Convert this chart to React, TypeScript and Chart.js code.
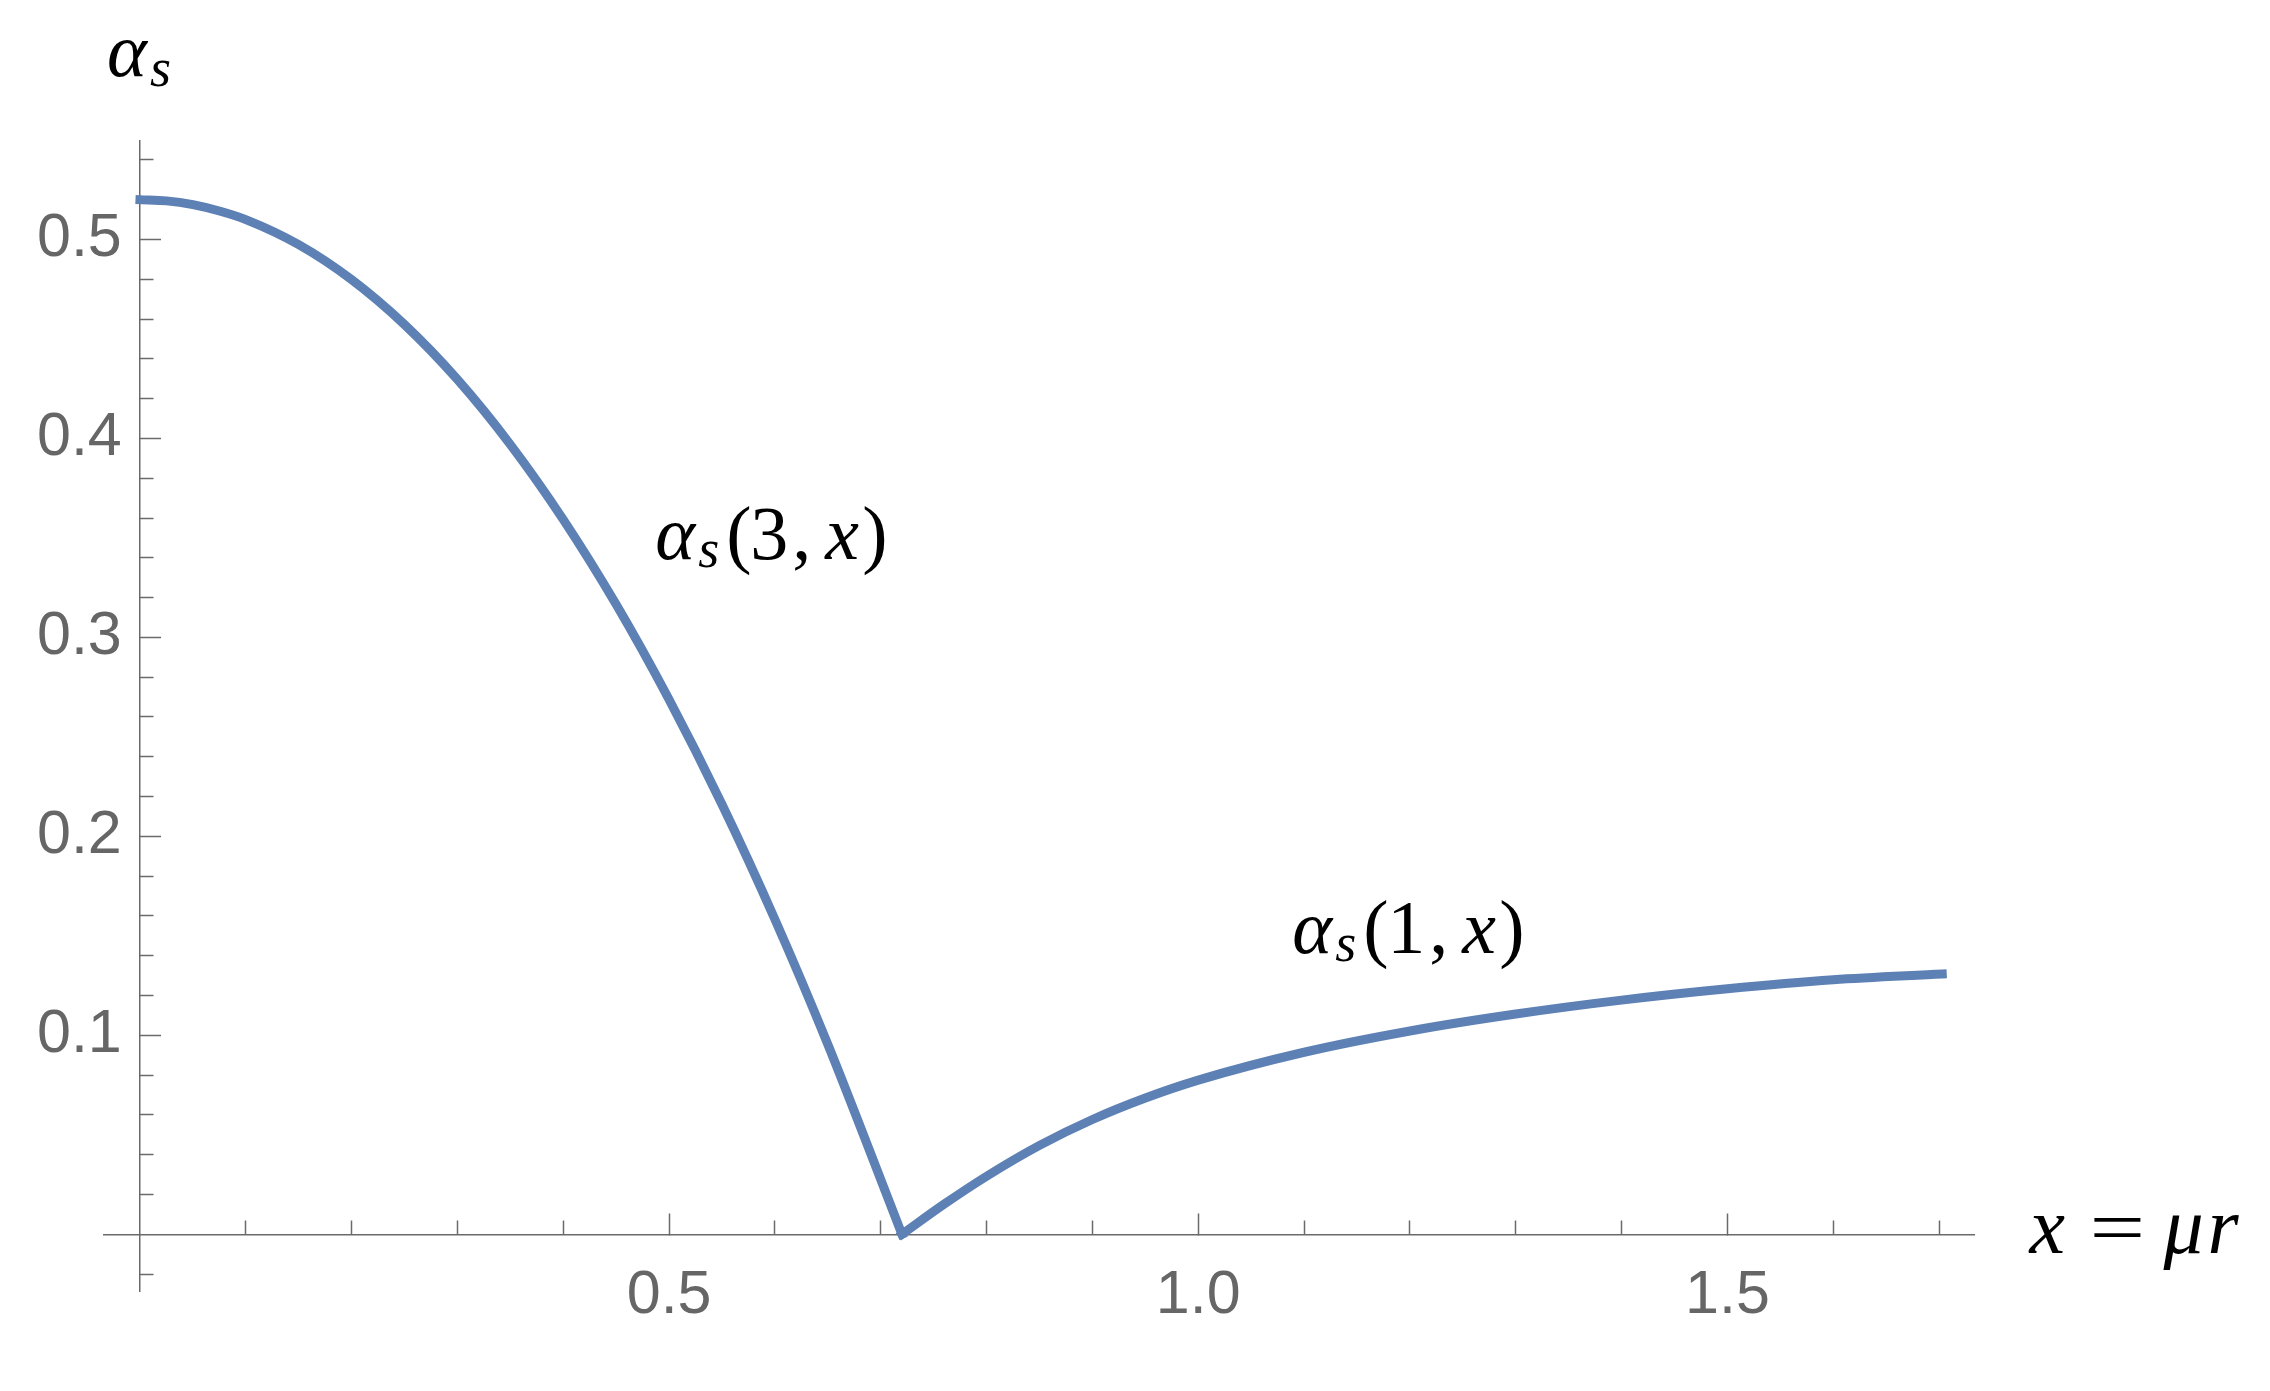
import React, { useEffect, useRef } from 'react';
import { Chart, registerables } from 'chart.js';

Chart.register(...registerables);

// alpha_s(3, x) branch
const X_BRANCH3 = [0, 0.025, 0.05, 0.075, 0.1, 0.15, 0.2, 0.25, 0.3, 0.35, 0.4, 0.45, 0.5, 0.55, 0.6, 0.65, 0.7, 0.72];
const Y_BRANCH3 = [0.52, 0.5194, 0.5175, 0.5143, 0.51, 0.4974, 0.4798, 0.4572, 0.4296, 0.3969, 0.3592, 0.3165, 0.2687, 0.216, 0.1582, 0.0954, 0.0275, 0.0];

// alpha_s(1, x) branch
const X_BRANCH1 = [0.72, 0.76, 0.8, 0.85, 0.9, 0.95, 1.0, 1.1, 1.2, 1.3, 1.4, 1.5, 1.6, 1.703];
const Y_BRANCH1 = [0.0, 0.0152, 0.0292, 0.0447, 0.0577, 0.0685, 0.0775, 0.0915, 0.1022, 0.1107, 0.1177, 0.1234, 0.1279, 0.1308];

const X_MAJOR_TICKS = [0.5, 1.0, 1.5];
const X_MINOR_TICKS = [0.1, 0.2, 0.3, 0.4, 0.6, 0.7, 0.8, 0.9, 1.1, 1.2, 1.3, 1.4, 1.6, 1.7];
const Y_MAJOR_TICKS = [0.1, 0.2, 0.3, 0.4, 0.5];
const Y_MINOR_TICKS = [-0.02, 0.02, 0.04, 0.06, 0.08, 0.12, 0.14, 0.16, 0.18, 0.22, 0.24, 0.26, 0.28, 0.32, 0.34, 0.36, 0.38, 0.42, 0.44, 0.46, 0.48, 0.52, 0.54];

const X_RANGE = [-0.034, 1.733];
const Y_RANGE = [-0.0285, 0.5495];

// curve label anchors (data coords: left edge, baseline)
const CURVE_LABEL_N = ['3', '1'];
const CURVE_LABEL_X = [0.4868, 1.0888];
const CURVE_LABEL_Y = [0.3393, 0.1414];

// axis label anchors (data coords)
const X_AXIS_LABEL_POS = [1.7836, -0.0093];
const Y_AXIS_LABEL_POS = [-0.0312, 0.5821];

const CURVE_COLOR = '#5E81B5';
const AXIS_COLOR = '#6a6a6a';
const TICK_LABEL_COLOR = '#666666';
const SANS = '"Liberation Sans", Arial, sans-serif';
const SERIF = '"Liberation Serif", "DejaVu Serif", serif';
const MATH_SIZE = 76;
const SUB_SIZE = 54;

type Glyph = { t: string; dx: number; size: number; italic?: boolean; dy?: number; sx?: number };

function drawGlyphs(ctx: CanvasRenderingContext2D, left: number, base: number, glyphs: Glyph[]) {
  for (const g of glyphs) {
    ctx.save();
    ctx.font = `${g.italic ? 'italic ' : ''}${g.size}px ${SERIF}`;
    ctx.fillStyle = '#000';
    ctx.textBaseline = 'alphabetic';
    ctx.textAlign = 'left';
    ctx.translate(left + g.dx, base + (g.dy || 0));
    if (g.sx) ctx.scale(g.sx, 1);
    ctx.fillText(g.t, 0, 0);
    ctx.restore();
  }
}

const mathLabels = {
  id: 'mathLabels',
  afterDraw(chart: any) {
    const ctx: CanvasRenderingContext2D = chart.ctx;
    const xs = chart.scales.x;
    const ys = chart.scales.y;
    CURVE_LABEL_N.forEach((n, i) => {
      const left = xs.getPixelForValue(CURVE_LABEL_X[i]);
      const base = ys.getPixelForValue(CURVE_LABEL_Y[i]);
      drawGlyphs(ctx, left, base, [
        { t: 'α', dx: 0, size: MATH_SIZE, italic: true },
        { t: 's', dx: 43, size: SUB_SIZE, italic: true, dy: 8 },
        { t: '(', dx: 71, size: MATH_SIZE },
        { t: n, dx: 95, size: MATH_SIZE },
        { t: ',', dx: 137, size: MATH_SIZE },
        { t: 'x', dx: 170, size: MATH_SIZE, italic: true },
        { t: ')', dx: 207, size: MATH_SIZE },
      ]);
    });
    {
      const left = xs.getPixelForValue(X_AXIS_LABEL_POS[0]);
      const base = ys.getPixelForValue(X_AXIS_LABEL_POS[1]);
      drawGlyphs(ctx, left, base, [
        { t: 'x', dx: 2, size: MATH_SIZE + 4, italic: true },
        { t: '=', dx: 62, size: MATH_SIZE, sx: 1.3 },
        { t: 'μ', dx: 136, size: MATH_SIZE + 4, italic: true },
        { t: 'r', dx: 180, size: MATH_SIZE + 4, italic: true },
      ]);
    }
    {
      const left = xs.getPixelForValue(Y_AXIS_LABEL_POS[0]);
      const base = ys.getPixelForValue(Y_AXIS_LABEL_POS[1]);
      drawGlyphs(ctx, left, base, [
        { t: 'α', dx: 0, size: MATH_SIZE, italic: true },
        { t: 's', dx: 43, size: SUB_SIZE, italic: true, dy: 10 },
      ]);
    }
  },
};

const setTicks = (values: number[]) => (axis: any) => {
  axis.ticks = values.map((v) => ({ value: v }));
};

export default function App() {
  const ref = useRef<HTMLCanvasElement>(null);

  useEffect(() => {
    document.body.style.margin = '0';
    document.body.style.overflow = 'hidden';
    const canvas = ref.current;
    if (!canvas) return;

    const lineStyle = {
      borderColor: CURVE_COLOR,
      backgroundColor: CURVE_COLOR,
      borderWidth: 9,
      pointRadius: 0,
      pointHoverRadius: 0,
      fill: false,
      cubicInterpolationMode: 'monotone' as const,
      borderCapStyle: 'square' as const,
      borderJoinStyle: 'miter' as const,
      xAxisID: 'x',
      yAxisID: 'y',
    };

    const chart = new Chart(canvas, {
      type: 'line',
      data: {
        datasets: [
          { ...lineStyle, data: X_BRANCH3.map((x, i) => ({ x, y: Y_BRANCH3[i] })) },
          { ...lineStyle, data: X_BRANCH1.map((x, i) => ({ x, y: Y_BRANCH1[i] })) },
        ],
      },
      options: {
        responsive: false,
        animation: false,
        devicePixelRatio: 1,
        events: [],
        elements: { line: { borderWidth: 9 }, point: { radius: 0 } },
        layout: { padding: { left: 0, right: 296, top: 141, bottom: 100 } },
        plugins: { legend: { display: false }, tooltip: { enabled: false } },
        scales: {
          x: {
            type: 'linear',
            axis: 'x',
            position: { y: 0 },
            min: X_RANGE[0],
            max: X_RANGE[1],
            afterBuildTicks: setTicks(X_MAJOR_TICKS),
            ticks: {
              autoSkip: false,
              maxRotation: 0,
              padding: 47,
              color: TICK_LABEL_COLOR,
              font: { family: SANS, size: 61 },
              callback: (v: any) => Number(v).toFixed(1),
            },
            grid: { drawOnChartArea: false, drawTicks: true, tickLength: -22, tickColor: AXIS_COLOR, tickWidth: 1.5 },
            border: { display: true, color: AXIS_COLOR, width: 1.5 },
          },
          xMinor: {
            type: 'linear',
            axis: 'x',
            position: { y: 0 },
            min: X_RANGE[0],
            max: X_RANGE[1],
            afterBuildTicks: setTicks(X_MINOR_TICKS),
            ticks: { display: false },
            grid: { drawOnChartArea: false, drawTicks: true, tickLength: -13.5, tickColor: AXIS_COLOR, tickWidth: 1.5 },
            border: { display: false },
          },
          y: {
            type: 'linear',
            axis: 'y',
            position: { x: 0 },
            min: Y_RANGE[0],
            max: Y_RANGE[1],
            afterBuildTicks: setTicks(Y_MAJOR_TICKS),
            ticks: { display: false },
            grid: { drawOnChartArea: false, drawTicks: true, tickLength: -22, tickColor: AXIS_COLOR, tickWidth: 1.5 },
            border: { display: true, color: AXIS_COLOR, width: 1.5 },
          },
          yMinor: {
            type: 'linear',
            axis: 'y',
            position: { x: 0 },
            min: Y_RANGE[0],
            max: Y_RANGE[1],
            afterBuildTicks: setTicks(Y_MINOR_TICKS),
            ticks: { display: false },
            grid: { drawOnChartArea: false, drawTicks: true, tickLength: -13.5, tickColor: AXIS_COLOR, tickWidth: 1.5 },
            border: { display: false },
          },
          yLabels: {
            type: 'linear',
            axis: 'y',
            position: 'left',
            min: Y_RANGE[0],
            max: Y_RANGE[1],
            afterBuildTicks: setTicks(Y_MAJOR_TICKS),
            afterFit: (scale: any) => {
              scale.width = 104;
            },
            ticks: {
              autoSkip: false,
              mirror: true,
              padding: -67,
              color: TICK_LABEL_COLOR,
              font: { family: SANS, size: 61 },
              callback: (v: any) => Number(v).toFixed(1),
            },
            grid: { display: false, drawTicks: false },
            border: { display: false },
          },
        },
      } as any,
      plugins: [mathLabels],
    });

    return () => chart.destroy();
  }, []);

  return (
    <div style={{ width: 2270, height: 1391 }}>
      <canvas ref={ref} width={2270} height={1391} style={{ display: 'block' }} />
    </div>
  );
}
